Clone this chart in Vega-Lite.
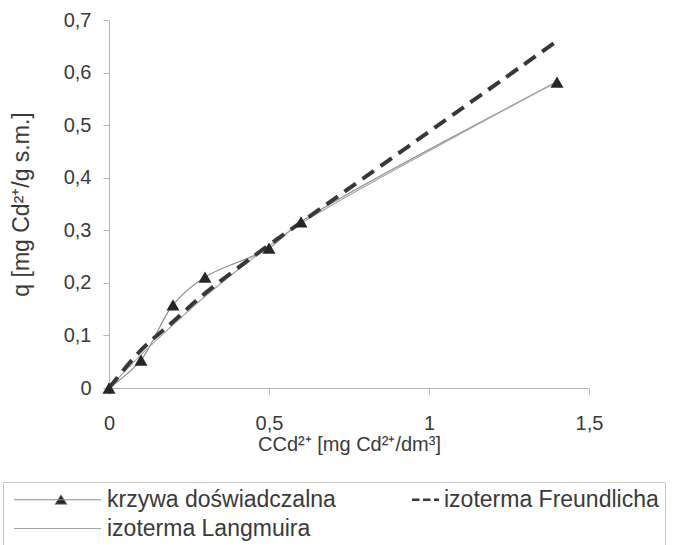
{
  "$schema": "https://vega.github.io/schema/vega-lite/v6.json",
  "width": 480,
  "height": 368,
  "padding": {"left": 2, "top": 10, "right": 0, "bottom": 0},
  "background": "white",
  "config": {
    "font": "Liberation Sans",
    "view": {"stroke": null},
    "axis": {
      "grid": false,
      "domainColor": "#b5b5b5",
      "tickColor": "#b5b5b5",
      "tickSize": 6,
      "labelFont": "Liberation Sans",
      "labelFontSize": 20,
      "labelColor": "#3a3a3a",
      "titleFont": "Liberation Sans",
      "titleFontWeight": "normal",
      "titleColor": "#3a3a3a"
    }
  },
  "data": {
    "values": [
      {"s": "krzywa doświadczalna", "c": 0, "q": 0},
      {"s": "krzywa doświadczalna", "c": 0.1, "q": 0.053},
      {"s": "krzywa doświadczalna", "c": 0.2, "q": 0.158},
      {"s": "krzywa doświadczalna", "c": 0.3, "q": 0.211},
      {"s": "krzywa doświadczalna", "c": 0.5, "q": 0.266},
      {"s": "krzywa doświadczalna", "c": 0.6, "q": 0.316},
      {"s": "krzywa doświadczalna", "c": 1.4, "q": 0.582},
      {"s": "izoterma Langmuira", "c": 0, "q": 0},
      {"s": "izoterma Langmuira", "c": 0.1, "q": 0.063},
      {"s": "izoterma Langmuira", "c": 0.2, "q": 0.12},
      {"s": "izoterma Langmuira", "c": 0.3, "q": 0.174},
      {"s": "izoterma Langmuira", "c": 0.5, "q": 0.27},
      {"s": "izoterma Langmuira", "c": 0.6, "q": 0.313},
      {"s": "izoterma Langmuira", "c": 1.4, "q": 0.583},
      {"s": "izoterma Freundlicha", "c": 0, "q": 0},
      {"s": "izoterma Freundlicha", "c": 0.1, "q": 0.072},
      {"s": "izoterma Freundlicha", "c": 0.2, "q": 0.126},
      {"s": "izoterma Freundlicha", "c": 0.3, "q": 0.18},
      {"s": "izoterma Freundlicha", "c": 0.5, "q": 0.272},
      {"s": "izoterma Freundlicha", "c": 0.6, "q": 0.315},
      {"s": "izoterma Freundlicha", "c": 1.4, "q": 0.66}
    ]
  },
  "encoding": {
    "x": {
      "field": "c",
      "type": "quantitative",
      "scale": {"domain": [0, 1.5], "nice": false, "zero": true},
      "axis": {
        "values": [0, 0.5, 1, 1.5],
        "labelExpr": "replace(format(datum.value, '.1~f'), '.', ',')",
        "labelPadding": 19,
        "labelFlush": false,
        "title": "CCd²⁺ [mg Cd²⁺/dm³]",
        "titleFontSize": 20,
        "titlePadding": 1
      }
    },
    "y": {
      "field": "q",
      "type": "quantitative",
      "scale": {"domain": [0, 0.7], "nice": false},
      "axis": {
        "values": [0, 0.1, 0.2, 0.3, 0.4, 0.5, 0.6, 0.7],
        "labelExpr": "replace(format(datum.value, '.1~f'), '.', ',')",
        "labelPadding": 12,
        "labelFlush": false,
        "title": "q [mg Cd²⁺/g s.m.]",
        "titleFontSize": 23,
        "titlePadding": 30
      }
    }
  },
  "layer": [
    {
      "transform": [{"filter": "datum.s !== 'izoterma Freundlicha'"}],
      "mark": {"type": "line", "interpolate": "catmull-rom", "strokeWidth": 1.2},
      "encoding": {
        "color": {
          "field": "s",
          "type": "nominal",
          "scale": {
            "domain": ["krzywa doświadczalna", "izoterma Freundlicha", "izoterma Langmuira"],
            "range": ["#8c8c8c", "#383838", "#a3a3a3"]
          },
          "legend": {
            "orient": "none",
            "legendX": -106,
            "legendY": 462,
            "direction": "horizontal",
            "columns": 2,
            "columnPadding": 10,
            "rowPadding": 5,
            "title": null,
            "padding": 6,
            "strokeColor": "#c8c8c8",
            "fillColor": "white",
            "labelFont": "Liberation Sans",
            "labelFontSize": 23,
            "labelColor": "#3a3a3a",
            "labelOffset": 75,
            "labelLimit": 400,
            "symbolType": "stroke",
            "symbolSize": 100,
            "encode": {
              "symbols": {
                "update": {
                  "shape": {"signal": "datum.value === 'krzywa doświadczalna' ? 'M-1.3,0L16.1,0M8.1,-1L9.3,0.9L6.9,0.9Z' : (datum.value === 'izoterma Freundlicha' ? 'M10.9,0L16.3,0' : 'M-1.3,0L16.1,0')"},
                  "fill": {"signal": "datum.value === 'krzywa doświadczalna' ? '#262626' : 'transparent'"},
                  "strokeDash": {"signal": "datum.value === 'izoterma Freundlicha' ? [7.5, 3.5] : [1, 0]"},
                  "strokeWidth": {"signal": "datum.value === 'izoterma Freundlicha' ? 2.5 : 1"}
                }
              }
            }
          }
        }
      }
    },
    {
      "transform": [{"filter": "datum.s === 'izoterma Freundlicha'"}],
      "mark": {"type": "line", "interpolate": "catmull-rom", "strokeWidth": 4, "strokeDash": [14, 8]},
      "encoding": {
        "color": {"field": "s", "type": "nominal"}
      }
    },
    {
      "transform": [{"filter": "datum.s === 'krzywa doświadczalna'"}],
      "mark": {"type": "point", "shape": "triangle-up", "filled": true, "size": 170, "color": "#262626", "opacity": 1}
    }
  ]
}
